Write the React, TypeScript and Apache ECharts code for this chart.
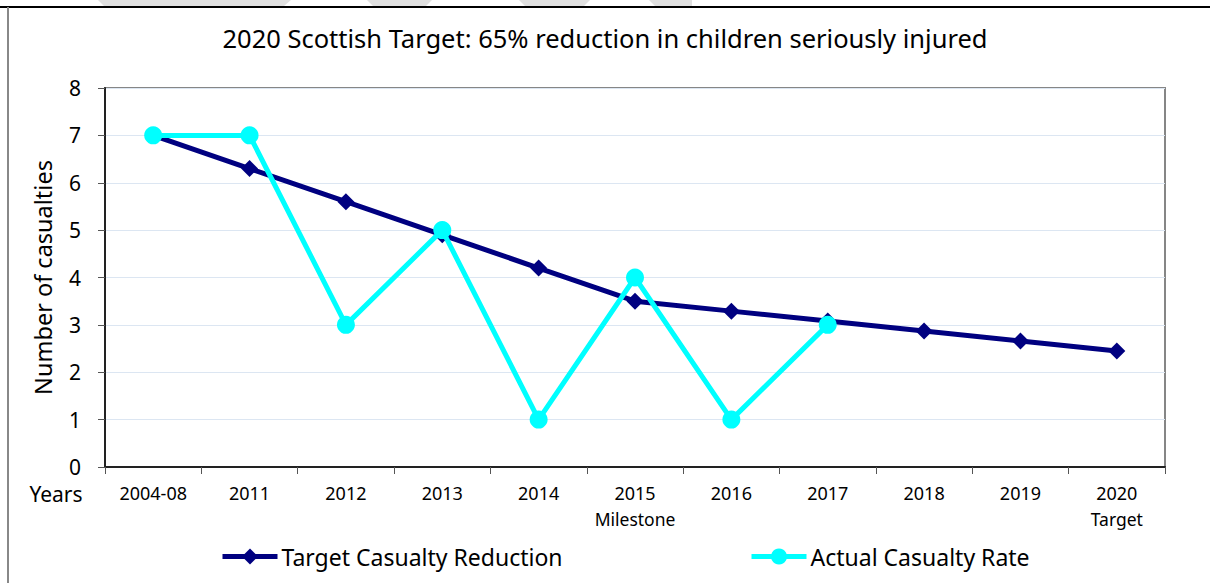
import React, { useEffect, useRef } from "react";
import * as echarts from "echarts";

const categories = ["2004-08", "2011", "2012", "2013", "2014", "2015", "2016", "2017", "2018", "2019", "2020"];
const subLabels = ["", "", "", "", "", "Milestone", "", "", "", "", "Target"];
const targetValues = [7, 6.3, 5.6, 4.9, 4.2, 3.5, 3.29, 3.08, 2.87, 2.66, 2.45];
const actualValues: (number | null)[] = [7, 7, 3, 5, 1, 4, 1, 3, null, null, null];
const yTicks = { min: 0, max: 8, interval: 1 };

const FONT = "'Noto Sans', sans-serif";

export default function App() {
  const ref = useRef<HTMLDivElement>(null);
  useEffect(() => {
    if (!ref.current) return;
    const chart = echarts.init(ref.current, undefined, { renderer: "svg" });
    const legendCommon = {
      top: 540,
      itemWidth: 55,
      itemHeight: 20,
      lineStyle: { width: 5 },
      textStyle: { fontFamily: FONT, fontSize: 23, color: "#000", padding: [0, 0, 0, -1] },
    };
    chart.setOption({
      animation: false,
      backgroundColor: "#ffffff",
      textStyle: { fontFamily: FONT },
      title: {
        text: "2020 Scottish Target: 65% reduction in children seriously injured",
        left: "center",
        top: 20,
        textStyle: { fontFamily: FONT, fontSize: 25.5, fontWeight: "normal", color: "#000" },
      },
      grid: {
        left: 105,
        right: 45,
        top: 88,
        bottom: 116,
        show: true,
        borderColor: "#868686",
        borderWidth: 2,
        backgroundColor: "transparent",
      },
      legend: [
        { ...legendCommon, data: ["Target Casualty Reduction"], left: 215 },
        { ...legendCommon, data: ["Actual Casualty Rate"], left: 744 },
      ],
      xAxis: {
        type: "category",
        data: categories,
        boundaryGap: true,
        axisLine: { lineStyle: { color: "#222", width: 2 } },
        axisTick: { show: true, length: 7, lineStyle: { color: "#555", width: 1 } },
        axisLabel: {
          margin: 13,
          interval: 0,
          formatter: (v: string, i: number) => (subLabels[i] ? `{a|${v}}\n{b|${subLabels[i]}}` : `{a|${v}}`),
          rich: {
            a: { fontFamily: FONT, fontSize: 18, color: "#000", lineHeight: 26 },
            b: { fontFamily: FONT, fontSize: 17.5, color: "#000", lineHeight: 26 },
          },
        },
      },
      yAxis: {
        type: "value",
        min: yTicks.min,
        max: yTicks.max,
        interval: yTicks.interval,
        name: "Number of casualties",
        nameLocation: "middle",
        nameGap: 50,
        nameRotate: 90,
        nameTextStyle: { fontFamily: FONT, fontSize: 23.5, color: "#000" },
        axisLine: { show: true, lineStyle: { color: "#222", width: 2 } },
        axisTick: { show: true, length: 7, lineStyle: { color: "#555", width: 1 } },
        axisLabel: { margin: 24, fontFamily: FONT, fontSize: 21, color: "#000" },
        splitLine: { show: true, lineStyle: { color: "#dce6f2", width: 1 } },
      },
      series: [
        {
          name: "Target Casualty Reduction",
          type: "line",
          data: targetValues,
          symbol: "diamond",
          symbolSize: 17,
          lineStyle: { color: "#000080", width: 5 },
          itemStyle: { color: "#000080" },
          z: 2,
        },
        {
          name: "Actual Casualty Rate",
          type: "line",
          data: actualValues,
          symbol: "circle",
          symbolSize: 18,
          connectNulls: false,
          lineStyle: { color: "#00ffff", width: 5 },
          itemStyle: { color: "#00ffff" },
          z: 3,
        },
      ],
      graphic: [
        { type: "polygon", shape: { points: [[98, 0], [291, 0], [284, 6], [104, 6]] }, style: { fill: "#e0e0e0" }, silent: true },
        { type: "polygon", shape: { points: [[367, 0], [432, 0], [426, 6], [373, 6]] }, style: { fill: "#e0e0e0" }, silent: true },
        { type: "polygon", shape: { points: [[519, 0], [590, 0], [584, 6], [525, 6]] }, style: { fill: "#e0e0e0" }, silent: true },
        { type: "polygon", shape: { points: [[649, 0], [692, 0], [692, 6], [655, 6]] }, style: { fill: "#e0e0e0" }, silent: true },
        { type: "line", shape: { x1: 0, y1: 7, x2: 1210, y2: 7 }, style: { stroke: "#000", lineWidth: 2 }, silent: true },
        { type: "line", shape: { x1: 8, y1: 7, x2: 8, y2: 583 }, style: { stroke: "#888", lineWidth: 2 }, silent: true },
        {
          type: "text",
          x: 56,
          y: 494,
          style: { text: "Years", fontFamily: FONT, fontSize: 21, fill: "#000", textAlign: "center", textVerticalAlign: "middle" },
          silent: true,
        },
      ],
    });
    return () => chart.dispose();
  }, []);
  return <div ref={ref} style={{ width: 1210, height: 583, position: "absolute", left: 0, top: 0 }} />;
}
